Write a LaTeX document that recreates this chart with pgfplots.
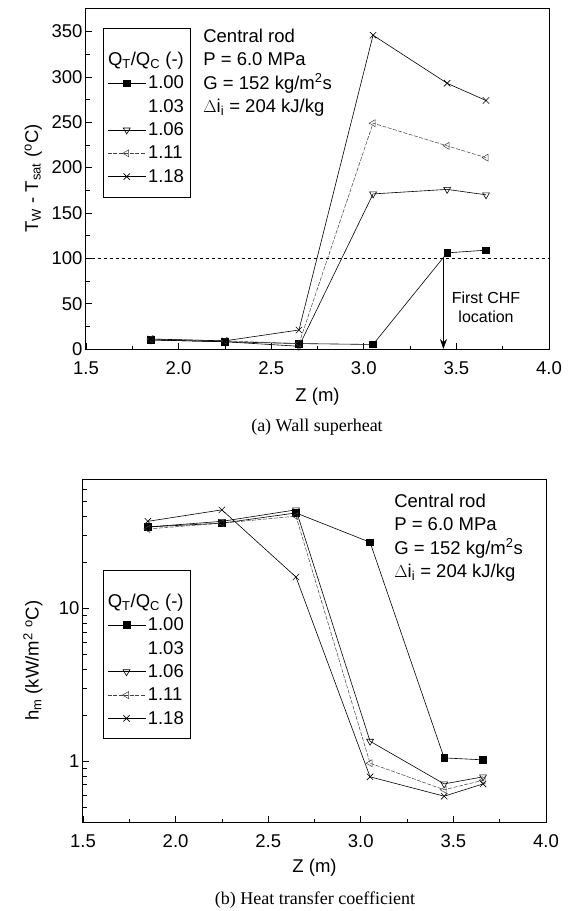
\documentclass[border=0pt]{standalone}
\usepackage{fontspec}
\setmainfont{Liberation Sans}
\newfontfamily\capfont{Liberation Serif}
\usepackage{pgfplots}
\pgfplotsset{compat=1.18}
\usetikzlibrary{arrows.meta}

\newcommand{\fs}{\fontsize{18.5}{22.5}\selectfont}
\newcommand{\qtitle}{\hspace*{-40pt}\rule{0pt}{24pt}Q\textsubscript{T}/Q\textsubscript{C} (-)}

\pgfplotsset{
  panel/.style={
    scale only axis,
    width=463pt,
    xmin=1.5, xmax=4.0,
    xtick={1.5,2.0,2.5,3.0,3.5,4.0},
    minor x tick num=1,
    xticklabel shift=9pt,
    xticklabel style={/pgf/number format/fixed,
      /pgf/number format/fixed zerofill, /pgf/number format/precision=1},
    /pgf/number format/assume math mode=true,
    tick align=inside, tick pos=left,
    major tick length=6pt, minor tick length=3.5pt,
    every tick/.append style={black, line width=0.8pt},
    axis line style={line width=1pt},
    tick label style={font=\fs},
    label style={font=\fs},
    xlabel={Z (m)},
    legend style={draw=black, line width=0.6pt, font=\fs, anchor=north west,
      inner xsep=4pt, inner ysep=11pt, row sep=5pt},
    legend cell align=left,
    legend image code/.code={\draw[mark repeat=2,mark phase=2]
      plot coordinates {(0pt,0pt) (19pt,0pt) (38pt,0pt)};},
  },
  q100/.style={black, line width=0.6pt, mark=square*, mark size=3.3pt,
    mark options={solid, fill=black}},
  q106/.style={black, line width=0.6pt, mark=triangle, mark size=4pt,
    mark options={solid, rotate=180}},
  q111/.style={black!75, line width=0.5pt, dash pattern=on 4pt off 1.5pt,
    mark=triangle, mark size=4pt, mark options={solid, rotate=90}},
  q118/.style={black, line width=0.6pt, mark=x, mark size=4.5pt,
    mark options={solid}},
  noimage/.style={legend image code/.code={}},
}

\begin{document}
\begin{tikzpicture}
\useasboundingbox (0,0) rectangle (571pt,-911pt);

% (a) wall superheat
\begin{axis}[
  panel,
  at={(86pt,-8pt)}, anchor=north west,
  height=341pt,
  ymin=0, ymax=376,
  ytick={0,50,...,350},
  minor y tick num=1,
  xlabel style={at={(axis description cs:0.5,0)}, anchor=center, yshift=-48pt},
  ylabel={T\textsubscript{W} - T\textsubscript{sat} (\textsuperscript{o}C)},
  ylabel style={at={(axis description cs:-0.114,0.5)}, anchor=center},
  legend style={at={(0.037,0.941)}},
]
\addlegendimage{empty legend}
\addlegendentry{\qtitle}

\addplot[q100] coordinates {
  (1.85,10) (2.25,8) (2.65,6) (3.05,5) (3.45,106) (3.66,109)
};
\addlegendentry{1.00}

\addlegendimage{noimage}
\addlegendentry{1.03}

\addplot[q106] coordinates {
  (1.85,10) (2.25,8) (2.65,3) (3.05,171) (3.45,176) (3.66,170)
};
\addlegendentry{1.06}

\addplot[q111] coordinates {
  (1.85,11) (2.25,9) (2.65,6) (3.05,249) (3.45,224) (3.66,211)
};
\addlegendentry{1.11}

\addplot[q118] coordinates {
  (1.85,11) (2.25,9) (2.65,21) (3.05,346) (3.45,293) (3.66,274)
};
\addlegendentry{1.18}

% 100 C criterion line
\addplot[forget plot, black, line width=0.6pt, dashed] coordinates {(1.5,100) (4.0,100)};

\draw[line width=0.7pt, -{Stealth[length=10pt, width=7pt]}]
  (axis cs:3.43,100) -- (axis cs:3.43,0);
\node[font=\fontsize{16}{19.5}\selectfont, align=center] at (axis cs:3.66,46)
  {First CHF\\location};

\node[font=\fontsize{18.5}{23.5}\selectfont, align=left, anchor=north west, inner sep=0pt]
  at (axis description cs:0.253,0.94)
  {Central rod\\P = 6.0 MPa\\G = 152 kg/m\textsuperscript{2}s\\$\Delta$i\textsubscript{i} = 204 kJ/kg};
\end{axis}

\node[font=\capfont\fontsize{18}{20}\selectfont] at (317pt,-427pt) {(a) Wall superheat};

% (b) heat transfer coefficient
\begin{axis}[
  panel,
  at={(83pt,-479pt)}, anchor=north west,
  height=343pt,
  ymode=log,
  ymin=0.4, ymax=70,
  ytick={1,10}, yticklabels={1,10},
  minor ytick={0.4,0.5,0.6,0.7,0.8,0.9,2,3,4,5,6,7,8,9,20,30,40,50,60,70},
  xlabel style={at={(axis description cs:0.5,0)}, anchor=center, yshift=-46pt},
  ylabel={h\textsubscript{m} (kW/m\textsuperscript{2} \textsuperscript{o}C)},
  ylabel style={at={(axis description cs:-0.108,0.47)}, anchor=center},
  legend style={at={(0.043,0.735)}},
]
\addlegendimage{empty legend}
\addlegendentry{\qtitle}

\addplot[q100] coordinates {
  (1.85,34) (2.25,36) (2.65,42) (3.05,27) (3.45,1.05) (3.66,1.02)
};
\addlegendentry{1.00}

\addlegendimage{noimage}
\addlegendentry{1.03}

\addplot[q106] coordinates {
  (1.85,34) (2.25,37) (2.65,44) (3.05,1.35) (3.45,0.71) (3.66,0.79)
};
\addlegendentry{1.06}

\addplot[q111] coordinates {
  (1.85,33) (2.25,36) (2.65,40) (3.05,0.97) (3.45,0.65) (3.66,0.75)
};
\addlegendentry{1.11}

\addplot[q118] coordinates {
  (1.85,37) (2.25,44) (2.65,16) (3.05,0.79) (3.45,0.59) (3.66,0.71)
};
\addlegendentry{1.18}

\node[font=\fontsize{18.5}{23.5}\selectfont, align=left, anchor=north west, inner sep=0pt]
  at (axis description cs:0.672,0.958)
  {Central rod\\P = 6.0 MPa\\G = 152 kg/m\textsuperscript{2}s\\$\Delta$i\textsubscript{i} = 204 kJ/kg};
\end{axis}

\node[font=\capfont\fontsize{18}{20}\selectfont] at (315pt,-900pt) {(b) Heat transfer coefficient};
\end{tikzpicture}
\end{document}
